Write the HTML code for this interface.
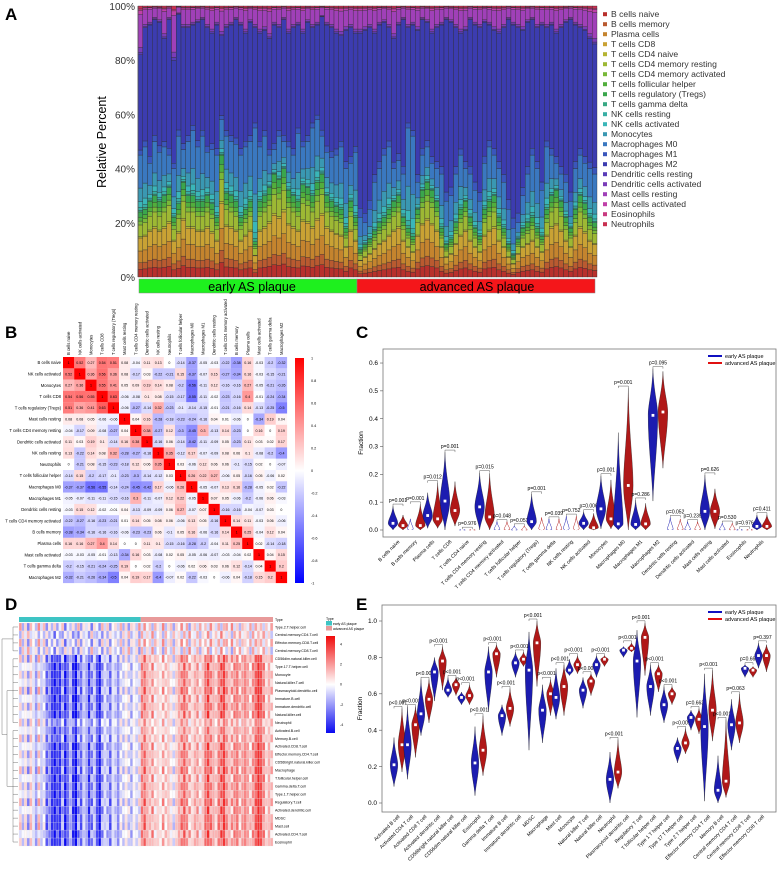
<!DOCTYPE html>
<html><head><meta charset="utf-8"><style>
html,body{margin:0;padding:0;background:#fff;}
svg{display:block;font-family:"Liberation Sans",sans-serif;}
</style></head><body>
<svg id="fig" width="777" height="871" viewBox="0 0 777 871" xmlns="http://www.w3.org/2000/svg">
<text x="5" y="20" font-size="17" font-weight="bold">A</text>
<text x="5" y="338" font-size="17" font-weight="bold">B</text>
<text x="356" y="338" font-size="17" font-weight="bold">C</text>
<text x="5" y="610" font-size="17" font-weight="bold">D</text>
<text x="356" y="610" font-size="17" font-weight="bold">E</text>
</svg>
<script>
// ---------- Panel A data ----------
const cellTypes=["B cells naive","B cells memory","Plasma cells","T cells CD8","T cells CD4 naive","T cells CD4 memory resting","T cells CD4 memory activated","T cells follicular helper","T cells regulatory (Tregs)","T cells gamma delta","NK cells resting","NK cells activated","Monocytes","Macrophages M0","Macrophages M1","Macrophages M2","Dendritic cells resting","Dendritic cells activated","Mast cells resting","Mast cells activated","Eosinophils","Neutrophils"];
const cellColors=["#b8302c","#b95a30","#c4842e","#c9a234","#b5b432","#9db834","#78b838","#52ae3c","#3aa64c","#38a884","#38aea4","#3ab6b8","#3a98b2","#3a78c0","#3a56bc","#3c3cb0","#5a3cb8","#7a3cb8","#a040b8","#c040a8","#c83a80","#c83050"];
const tTopEarly=[24,25,28,30,28,30,33,22,27,35,30,30,28,28,30,27,22,45,31,30,28,22,25,28,13,28,30,33,38,36,40,32,30,28,34,33,30,35,38,30,28,26,25,18,28,22];
const m0TopEarly=[45,48,42,50,46,48,45,40,52,47,50,54,48,52,46,47,45,58,52,50,49,45,48,50,55,48,52,45,47,52,50,48,45,53,48,50,55,58,52,46,44,45,48,40,42,46];
const m2TopEarly=[82,92,93,95,94,88,95,80,97,92,92,93,94,95,92,90,93,89,92,93,95,93,90,94,92,90,91,88,93,92,95,90,92,93,90,94,92,93,96,93,92,90,89,91,92,90];
const tTopAdv=[10,12,14,17,20,22,25,28,30,22,18,15,25,32,35,32,28,18,12,14,20,25,28,22,18,15,25,28,30,22,18,12,8,14,18,20,22,18,15,25,30,32,28,22,18,25,30,27,22,20];
const m0TopAdv=[22,20,25,35,40,45,48,40,43,38,55,52,35,45,48,42,40,38,28,30,38,45,40,38,32,28,42,48,45,40,35,25,18,20,30,38,45,40,32,48,45,42,38,35,28,40,45,42,40,38];
const m2TopAdv=[90,91,92,90,93,94,92,88,93,95,92,93,91,95,94,90,92,93,95,94,92,90,91,95,93,92,94,93,91,90,92,95,93,92,91,94,95,92,93,92,93,90,92,94,95,93,92,91,88,86];
const propLymph=[0.12,0.1,0.18,0.2,0.02,0.18,0.06,0.06,0.08];
const propMid=[0.03,0.05,0.1,0.24,0.58];
const propMac=[0.05,0.95];
const propTop=[0.05,0.1,0.68,0.08,0.03,0.06];
const aTicks=[0,20,40,60,80,100];

// ---------- Panel B data ----------
const corrLabels=["B cells naive","NK cells activated","Monocytes","T cells CD8","T cells regulatory (Tregs)","Mast cells resting","T cells CD4 memory resting","Dendritic cells activated","NK cells resting","Neutrophils","T cells follicular helper","Macrophages M0","Macrophages M1","Dendritic cells resting","T cells CD4 memory activated","B cells memory","Plasma cells","Mast cells activated","T cells gamma delta","Macrophages M2"];
const corrRows=[
[1,.52,.27,.54,.51,.08,-.04,.11,.13,0,-.14,-.37,-.05,-.03,-.22,-.38,.16,-.03,-.2,-.32],
[.52,1,.36,.56,.36,.08,-.17,.03,-.22,-.21,.15,-.37,-.07,.15,-.27,-.34,.16,-.03,-.15,-.21],
[.27,.36,1,.55,.41,.05,.09,.19,.14,.08,-.2,-.56,-.11,.12,-.16,-.16,.27,-.05,-.21,-.26],
[.54,.56,.55,1,.63,-.06,-.08,.1,.08,-.15,-.17,-.55,-.11,-.02,-.23,-.16,.4,-.01,-.24,-.34],
[.51,.36,.41,.63,1,-.06,-.27,-.14,.32,-.23,-.1,-.14,-.15,-.01,-.21,-.16,.14,-.13,-.25,-.5],
[.08,.08,.05,-.06,-.06,1,.04,.16,-.28,-.18,-.23,-.24,-.16,.04,.01,-.06,0,-.34,.19,.04],
[-.04,-.17,.09,-.08,-.27,.04,1,.38,-.27,.12,-.3,-.45,.3,-.13,.14,-.23,0,.16,0,.19],
[.11,.03,.19,.1,-.14,.16,.38,1,-.16,.06,-.14,-.42,-.11,-.09,.05,-.23,.11,.03,.02,.17],
[.13,-.22,.14,.08,.32,-.28,-.27,-.16,1,.35,-.12,.17,-.07,-.09,.08,.06,.1,-.08,-.2,-.4],
[0,-.21,.08,-.15,-.23,-.18,.12,.06,.35,1,.03,-.06,.12,.06,.06,-.1,-.15,.02,0,-.07],
[-.14,.15,-.2,-.17,-.1,-.23,-.3,-.14,-.12,.03,1,.26,.22,.27,-.06,.05,-.16,.05,-.06,.02],
[-.37,-.37,-.56,-.55,-.14,-.24,-.45,-.42,.17,-.06,.26,1,-.05,-.07,.13,.16,-.28,-.05,.02,-.22],
[-.05,-.07,-.11,-.11,-.15,-.16,.3,-.11,-.07,.12,.22,-.05,1,.07,.05,-.06,-.2,-.06,.06,-.03],
[-.03,.15,.12,-.02,-.01,.04,-.13,-.09,-.09,.06,.27,-.07,.07,1,-.16,-.16,-.04,-.07,.03,0],
[-.22,-.27,-.16,-.23,-.21,.01,.14,.05,.08,.06,-.06,.13,.05,-.16,1,.14,.11,-.03,.06,-.06],
[-.38,-.34,-.16,-.16,-.16,-.06,-.23,-.23,.06,-.1,.05,.16,-.06,-.16,.14,1,.25,-.04,.12,.04],
[.16,.16,.27,.4,.14,0,0,.11,.1,-.15,-.16,-.28,-.2,-.04,.11,.25,1,.02,-.14,-.18],
[-.03,-.03,-.05,-.01,-.13,-.34,.16,.03,-.08,.02,.05,-.05,-.06,-.07,-.03,-.04,.02,1,.04,.15],
[-.2,-.15,-.21,-.24,-.25,.19,0,.02,-.2,0,-.06,.02,.06,.03,.06,.12,-.14,.04,1,.2],
[-.32,-.21,-.26,-.34,-.5,.04,.19,.17,-.4,-.07,.02,-.22,-.03,0,-.06,.04,-.18,.15,.2,1]];
const corrTicks=[1,0.8,0.6,0.4,0.2,0,-0.2,-0.4,-0.6,-0.8,-1];

// ---------- Panel C data ----------
const cCats=["B cells naive","B cells memory","Plasma cells","T cells CD8","T cells CD4 naive","T cells CD4 memory resting","T cells CD4 memory activated","T cells follicular helper","T cells regulatory (Tregs)","T cells gamma delta","NK cells resting","NK cells activated","Monocytes","Macrophages M0","Macrophages M1","Macrophages M2","Dendritic cells resting","Dendritic cells activated","Mast cells resting","Mast cells activated","Eosinophils","Neutrophils"];
const cEarlyMed=[0.024,0.003,0.052,0.104,0,0.083,0.002,0,0.03,0.002,0.004,0.024,0.076,0.022,0.02,0.412,0.002,0.002,0.067,0.001,0,0.013];
const cEarlyMax=[0.086,0.04,0.134,0.28,0.003,0.206,0.03,0.015,0.13,0.04,0.05,0.066,0.195,0.35,0.108,0.58,0.045,0.03,0.198,0.025,0.005,0.054];
const cEarlyMin=[0,0,0.006,0,0,0,0,0,0,0,0,0,0.004,0,0,0.104,0,0,0,0,0,0];
const cAdvMed=[0.016,0.016,0.04,0.07,0,0.047,0.002,0,0.004,0.002,0.004,0.008,0.04,0.16,0.022,0.424,0.002,0.002,0.067,0.001,0,0.013];
const cAdvMax=[0.054,0.094,0.17,0.174,0.003,0.204,0.03,0.015,0.045,0.04,0.05,0.06,0.18,0.51,0.096,0.57,0.04,0.03,0.148,0.025,0.005,0.055];
const cAdvMin=[0,0,0.006,0.014,0,0,0,0,0,0,0,0,0.004,0,0,0.222,0,0,0.004,0,0,0];
const cPvals=["p=0.001","p=0.001","p=0.012","p=0.001","p=0.976","p=0.015","p=0.048","p=0.051","p=0.001","p=0.039","p=0.752","p=0.006","p=0.001","p=0.001","p=0.286","p=0.095","p=0.052","p=0.239","p=0.626","p=0.530","p=0.976","p=0.411"];
const cTicks=[0,0.1,0.2,0.3,0.4,0.5,0.6];

// ---------- Panel D data ----------
const hmRows=["Type.2.T.helper.cell","Central.memory.CD4.T.cell","Effector.memory.CD8.T.cell","Central.memory.CD8.T.cell","CD56dim.natural.killer.cell","Type.17.T.helper.cell","Monocyte","Natural.killer.T.cell","Plasmacytoid.dendritic.cell","Immature.B.cell","Immature.dendritic.cell","Natural.killer.cell","Neutrophil","Activated.B.cell","Memory.B.cell","Activated.CD8.T.cell","Effector.memory.CD4.T.cell","CD56bright.natural.killer.cell","Macrophage","T.follicular.helper.cell","Gamma.delta.T.cell","Type.1.T.helper.cell","Regulatory.T.cell","Activated.dendritic.cell","MDSC","Mast.cell","Activated.CD4.T.cell","Eosinophil"];
const hmColScore=[0.2,-0.5,0.3,-0.8,0.5,-0.3,-1,0.4,-0.6,-0.2,-1.5,-1.2,-2,-2.5,-1.8,-2.2,-1,-2.5,-1.5,-0.8,-2,-2.8,-1.2,-1.5,-0.5,-1,-2,-1.2,-0.6,-1.8,-2.6,-1,-0.4,-0.8,-1.5,-0.3,-0.6,-1.2,-0.2,-0.5,0.2,-0.3,-0.8,0.1,-0.4,0,
1.2,1.5,0.8,0.6,1,0.3,0.5,0.2,0.8,0.4,0.6,0.2,-0.3,0.5,0.9,1.2,1.6,1.0,0.7,0.4,0.8,1,0.3,0.6,1.5,1.8,1.2,0.9,0.5,1.3,1.6,2,1.1,0.7,0.8,1.2,1.4,0.6,1,1.3,0.9,0.5,1.1,1.6,2.2,1.8,1.2,0.4,0.8,0.6];
const hmColJitter=[0.8,-0.6,0.3,-0.9,0.5,0.1,-0.4,0.9,-0.2,0.6,-0.7,0.4,-0.3,0.8,-0.5,0.2,0.7,-0.8,0.1,-0.4,0.6,-0.2,0.9,-0.6,0.3,-0.1,0.5,-0.9,0.4,0.2,-0.5,0.8,-0.3,0.6,-0.7,0.1,0.4,-0.2,0.7,-0.6,0.3,-0.8,0.5,0.2,-0.4,0.9,
-0.5,0.7,-0.2,0.4,-0.8,0.6,0.1,-0.3,0.9,-0.6,0.2,0.5,-0.7,0.3,-0.1,0.8,-0.4,0.6,-0.9,0.2,0.4,-0.5,0.7,-0.2,0.3,-0.6,0.8,0.1,-0.4,0.5,-0.8,0.3,0.6,-0.2,0.9,-0.5,0.2,-0.7,0.4,0.1,-0.3,0.7,-0.6,0.5,-0.1,0.3,-0.6,0.4,-0.2,0.7];
const hmRowWeight=[0.2,0.3,0.3,0.2,0.9,1,1,1,1,1,1,1,0.6,0.8,0.8,1,1,1,1,1,1,1,1,1,1,1,1,1];
const hmRowSign=[1.8,-1.6,1.6,-1.8,1,-1,0.5,-0.5,1,-1,0.5,-1,1,-0.5,1,-1,0.5,-0.5,1,-1,0.5,-0.5,1,-1,0.5,1,-1,0.5];
const hmTicks=[4,2,0,-2,-4];

// ---------- Panel E data ----------
const eCats=["Activated B cell","Activated CD4 T cell","Activated CD8 T cell","Activated dendritic cell","CD56bright natural killer cell","CD56dim natural killer cell","Eosinophil","Gamma delta T cell","Immature B cell","Immature dendritic cell","MDSC","Macrophage","Mast cell","Monocyte","Natural killer T cell","Natural killer cell","Neutrophil","Plasmacytoid dendritic cell","Regulatory T cell","T follicular helper cell","Type 1 T helper cell","Type 17 T helper cell","Type 2 T helper cell","Effector memory CD4 T cell","Memory B cell","Central memory CD4 T cell","Central memory CD8 T cell","Effector memory CD8 T cell"];
const eEarlyMed=[0.21,0.32,0.49,0.72,0.62,0.58,0.22,0.72,0.48,0.77,0.73,0.51,0.58,0.73,0.62,0.76,0.13,0.84,0.78,0.64,0.54,0.30,0.47,0.42,0.07,0.43,0.74,0.81];
const eEarlyMin=[0.09,0.13,0.37,0.56,0.58,0.54,0.04,0.50,0.37,0.69,0.29,0.33,0.46,0.70,0.52,0.69,0.0,0.80,0.47,0.48,0.44,0.22,0.40,0.01,0.0,0.29,0.69,0.74];
const eEarlyMax=[0.36,0.53,0.68,0.80,0.69,0.61,0.42,0.86,0.54,0.83,0.94,0.65,0.74,0.79,0.69,0.81,0.28,0.86,0.95,0.76,0.64,0.36,0.51,0.71,0.26,0.57,0.76,0.88];
const eAdvMed=[0.32,0.43,0.57,0.78,0.65,0.59,0.29,0.82,0.52,0.79,0.88,0.60,0.64,0.76,0.67,0.79,0.17,0.85,0.91,0.71,0.60,0.33,0.46,0.51,0.12,0.44,0.73,0.81];
const eAdvMin=[0.17,0.25,0.44,0.62,0.59,0.54,0.15,0.69,0.42,0.75,0.64,0.48,0.48,0.71,0.59,0.75,0.08,0.83,0.70,0.61,0.54,0.27,0.38,0.34,0.03,0.33,0.69,0.72];
const eAdvMax=[0.52,0.53,0.68,0.86,0.69,0.65,0.48,0.87,0.63,0.83,1.0,0.68,0.76,0.81,0.71,0.81,0.35,0.88,0.99,0.76,0.64,0.41,0.52,0.73,0.46,0.60,0.75,0.87];
const ePvals=["p<0.001","p<0.001","p<0.001","p<0.001","p<0.001","p<0.001","p<0.001","p<0.001","p<0.001","p<0.001","p<0.001","p<0.001","p<0.001","p<0.001","p<0.001","p<0.001","p<0.001","p<0.001","p<0.001","p<0.001","p<0.001","p<0.001","p=0.663","p<0.001","p<0.001","p=0.063","p=0.667","p=0.397"];
const eTicks=[0,0.2,0.4,0.6,0.8,1.0];

// ---------- helpers ----------
const NS="http://www.w3.org/2000/svg";
const svg=document.getElementById('fig');
function mk(tag,attrs,parent){const e=document.createElementNS(NS,tag);for(const k in attrs)e.setAttribute(k,attrs[k]);(parent||svg).appendChild(e);return e;}
function tx(x,y,s,size,anchor,parent){const t=mk('text',{x:x,y:y,'font-size':size,'text-anchor':anchor||'start'},parent);t.textContent=s;return t;}
function lerp(a,b,t){return Math.round(a+(b-a)*t);}
function divColor(v,maxAbs,pos,neg){if(!isFinite(v))v=0;let t=Math.max(-1,Math.min(1,v/maxAbs));const c=t>=0?pos:neg;t=Math.abs(t);return `rgb(${lerp(255,c[0],t)},${lerp(255,c[1],t)},${lerp(255,c[2],t)})`;}

// ---------- Panel A ----------
const gA=mk('g',{});


const aX0=138,aX1=597,aY0=6,aY1=277;
const tTop=tTopEarly.concat(tTopAdv),m0Top=m0TopEarly.concat(m0TopAdv),m2Top=m2TopEarly.concat(m2TopAdv);
const nS=tTop.length,bw=(aX1-aX0)/nS;
function yA(v){return aY1-v/100*(aY1-aY0);}
for(let i=0;i<nS;i++){
  const segs=[];
  propLymph.forEach(p=>segs.push(p*tTop[i]));
  propMid.forEach(p=>segs.push(p*(m0Top[i]-tTop[i])));
  propMac.forEach(p=>segs.push(p*(m2Top[i]-m0Top[i])));
  propTop.forEach(p=>segs.push(p*(100-m2Top[i])));
  let cum=0;
  segs.forEach((s,k)=>{
    const r=mk('rect',{x:(aX0+i*bw).toFixed(2),y:yA(cum+s).toFixed(2),width:bw.toFixed(2),height:(yA(cum)-yA(cum+s)).toFixed(2),fill:cellColors[k],stroke:'#2a2a2a','stroke-width':0.35},gA);
    
    
    cum+=s;
  });
}
const aAxis=mk('line',{x1:aX0,y1:aY0,x2:aX0,y2:aY1,stroke:'#555','stroke-width':0.8});


aTicks.forEach(v=>{
  const t=tx(aX0-3,yA(v)+4,v+'%',10,'end');
  
  
  t.setAttribute('fill','#333');
});
const aTitle=tx(0,0,'Relative Percent',12.5,'middle');
aTitle.setAttribute('transform','translate(106,142) rotate(-90)');


const gb1=mk('rect',{x:139,y:279,width:218,height:14,fill:'#1ef01e',stroke:'#888','stroke-width':0.5});


const gb2=mk('rect',{x:357,y:279,width:238,height:14,fill:'#f4161a',stroke:'#888','stroke-width':0.5});


const gl1=tx(252,291,'early AS plaque',12.5,'middle');


const gl2=tx(477,291,'advanced AS plaque',12.5,'middle');


cellTypes.forEach((n,k)=>{
  const y=14.7+k*10;
  const sq=mk('rect',{x:603,y:y-2.5,width:4,height:4,fill:cellColors[k]});
  
  
  const t=tx(611,y+2.5,n,8.6,'start');
  
  
  t.setAttribute('fill','#333');
});

// ---------- Panel B ----------
const bX0=63,bY0=357,cw=11.2,ch=11.3;
corrRows.forEach((row,r)=>{
  row.forEach((v,c)=>{
    const cell=mk('rect',{x:bX0+c*cw,y:bY0+r*ch,width:cw+0.1,height:ch+0.1,fill:divColor(v,1,[255,0,0],[0,0,255])});
    
    
    const t=tx(bX0+c*cw+cw/2,bY0+r*ch+ch/2+1.3,String(v),3.6,'middle');
    
    
  });
  const rl=tx(bX0-2,bY0+r*ch+ch/2+1.5,corrLabels[r],4.2,'end');
  
  
  const cl=tx(0,0,corrLabels[r],4.2,'start');
  cl.setAttribute('transform',`translate(${bX0+r*cw+cw/2+1.5},${bY0-2}) rotate(-90)`);
  
  
});
const defs=mk('defs',{});
const lg=mk('linearGradient',{id:'gradB',x1:0,y1:0,x2:0,y2:1},defs);
mk('stop',{offset:'0','stop-color':'#ff0000'},lg);mk('stop',{offset:'0.5','stop-color':'#ffffff'},lg);mk('stop',{offset:'1','stop-color':'#0000ff'},lg);
const cb=mk('rect',{x:295,y:358,width:9,height:225,fill:'url(#gradB)'});


corrTicks.forEach(v=>{
  const y=358+(1-v)/2*225;
  const t=tx(311,y+1.3,String(v),3.8,'start');
  
  
});

// ---------- violin helper ----------
function violin(cx,yMin,yMed,yMax,w,col,outline){
  const d=`M${cx},${yMax} C${cx+w*0.15},${yMax+(yMed-yMax)*0.5} ${cx+w},${yMed-(yMed-yMax)*0.25} ${cx+w},${yMed} C${cx+w},${yMed+(yMin-yMed)*0.35} ${cx+w*0.15},${yMin-(yMin-yMed)*0.3} ${cx},${yMin} C${cx-w*0.15},${yMin-(yMin-yMed)*0.3} ${cx-w},${yMed+(yMin-yMed)*0.35} ${cx-w},${yMed} C${cx-w},${yMed-(yMed-yMax)*0.25} ${cx-w*0.15},${yMax+(yMed-yMax)*0.5} ${cx},${yMax} Z`;
  const p=mk('path',{d:d,fill:outline?'#fff':col,stroke:outline?col:'#111','stroke-width':outline?0.5:0.3});
  
  
  const m=mk('rect',{x:cx-1.4,y:yMed-1.4,width:2.8,height:2.8,fill:'#fff'});
  
  
}
function legendBox(x,y){
  const l1=mk('line',{x1:x,y1:y,x2:x+14,y2:y,stroke:'#1010c0','stroke-width':2});
  
  
  const t1=tx(x+17,y+2,'early AS plaque',5.5,'start');
  
  
  const l2=mk('line',{x1:x,y1:y+7,x2:x+14,y2:y+7,stroke:'#e01010','stroke-width':2});
  
  
  const t2=tx(x+17,y+9,'advanced AS plaque',5.5,'start');
  
  
}
function violinPanel(o){
  const box=mk('rect',{x:o.x0,y:o.y0,width:o.x1-o.x0,height:o.y1-o.y0,fill:'none',stroke:'#777','stroke-width':0.8});
  
  
  o.ticks.forEach(v=>{
    const y=o.y(v);
    const tk=mk('line',{x1:o.x0-3,y1:y,x2:o.x0,y2:y,stroke:'#555','stroke-width':0.6});
    
    
    const t=tx(o.x0-5,y+2.2,v.toFixed(1),6.5,'end');
    
    
  });
  const ft=tx(0,0,'Fraction',6.5,'middle');
  ft.setAttribute('transform',`translate(${o.x0-20},${(o.y0+o.y1)/2}) rotate(-90)`);
  
  
  o.cats.forEach((c,i)=>{
    const cx=o.c0+i*o.step;
    const small=o.eMax[i]<0.06&&o.eMed[i]<0.01;
    violin(cx-o.off,o.y(o.eMin[i]),o.y(o.eMed[i]),o.y(o.eMax[i]),small?o.w*0.6:o.w,'#1c1cb0',small);
    const small2=o.aMax[i]<0.06&&o.aMed[i]<0.01;
    violin(cx+o.off,o.y(o.aMin[i]),o.y(o.aMed[i]),o.y(o.aMax[i]),small2?o.w*0.6:o.w,'#b01818',small2);
    const by=o.y(Math.max(o.eMax[i],o.aMax[i]))-2;
    const br=mk('path',{d:`M${cx-o.off},${by+2} L${cx-o.off},${by} L${cx+o.off},${by} L${cx+o.off},${by+2}`,fill:'none',stroke:'#333','stroke-width':0.4});
    
    
    const pt=tx(cx,by-2,o.p[i],5,'middle');
    
    
    const lb=tx(0,0,c,5,'end');
    lb.setAttribute('transform',`translate(${cx+2},${o.y1+5}) rotate(-45)`);
    
    
  });
  legendBox(o.x1-68,o.y0+7);
}
// ---------- Panel C ----------
violinPanel({name:'fraction-c',x0:383,x1:776,y0:349,y1:537,y:v=>530-v*278.3,ticks:cTicks,cats:cCats,c0:398,step:17.33,off:5,w:4.8,
  eMed:cEarlyMed,eMin:cEarlyMin,eMax:cEarlyMax,aMed:cAdvMed,aMin:cAdvMin,aMax:cAdvMax,p:cPvals});

// ---------- Panel E ----------
violinPanel({name:'fraction-e',x0:382,x1:776,y0:605,y1:812,y:v=>803-v*182,ticks:eTicks,cats:eCats,c0:398,step:13.5,off:4,w:3.8,
  eMed:eEarlyMed,eMin:eEarlyMin,eMax:eEarlyMax,aMed:eAdvMed,aMin:eAdvMin,aMax:eAdvMax,p:ePvals});

// ---------- Panel D ----------
const hX0=19,hX1=273,hY0=623,hY1=846;
const nC=hmColScore.length,hw=(hX1-hX0)/nC,hh=(hY1-hY0)/hmRows.length;
const nEarly=46;
const tb1=mk('rect',{x:hX0,y:617,width:nEarly*hw,height:5,fill:'#3ec4c4'});


const tb2=mk('rect',{x:hX0+nEarly*hw,y:617,width:(nC-nEarly)*hw,height:5,fill:'#e89a9a'});


const tyl=tx(275,621,'Type',3.6,'start');


hmRows.forEach((rn,r)=>{
  for(let c=0;c<nC;c++){
    const v=hmColScore[c]*hmRowWeight[r]*1.4+(hmColJitter[c]||0)*hmRowSign[r];
    const cell=mk('rect',{x:(hX0+c*hw).toFixed(2),y:(hY0+r*hh).toFixed(2),width:hw.toFixed(2),height:hh.toFixed(2),fill:divColor(v,3.6,[240,10,10],[10,10,240]),stroke:'#e4e4e4','stroke-width':0.2});
    
    
  }
  const t=tx(275,hY0+r*hh+hh/2+1.3,rn,3.6,'start');
  
  
});
// dendrogram
const dParts=[];
for(let r=0;r<hmRows.length;r++){const y=hY0+r*hh+hh/2;dParts.push(`M${hX0-1},${y} L13,${y}`);}
dParts.push(`M13,${hY0+hh*0.5} L13,${hY0+hh*3.5} M10,${hY0+hh*2} L13,${hY0+hh*2}`);
dParts.push(`M13,${hY0+hh*4.5} L13,${hY0+hh*12.5} M8,${hY0+hh*8.5} L13,${hY0+hh*8.5}`);
dParts.push(`M13,${hY0+hh*13.5} L13,${hY0+hh*27.5} M7,${hY0+hh*20.5} L13,${hY0+hh*20.5}`);
dParts.push(`M7,${hY0+hh*8.5} L7,${hY0+hh*20.5} M4,${hY0+hh*14} L7,${hY0+hh*14}`);
dParts.push(`M10,${hY0+hh*2} L2,${hY0+hh*2} M2,${hY0+hh*2} L2,${hY0+hh*14} L4,${hY0+hh*14}`);
dParts.push(`M8,${hY0+hh*8.5} L7,${hY0+hh*8.5}`);
const dend=mk('path',{d:dParts.join(' '),fill:'none',stroke:'#555','stroke-width':0.4});


const ltT=tx(326,620,'Type',3.6,'start');


const ls1=mk('rect',{x:326,y:621,width:6,height:4.5,fill:'#3ec4c4'});


const lt1=tx(333,625,'early AS plaque',3.4,'start');


const ls2=mk('rect',{x:326,y:626,width:6,height:4.5,fill:'#e89a9a'});


const lt2=tx(333,630,'advanced AS plaque',3.4,'start');


const lg2=mk('linearGradient',{id:'gradD',x1:0,y1:0,x2:0,y2:1},defs);
mk('stop',{offset:'0','stop-color':'#f00a0a'},lg2);mk('stop',{offset:'0.5','stop-color':'#ffffff'},lg2);mk('stop',{offset:'1','stop-color':'#0a0af0'},lg2);
const cb2=mk('rect',{x:326,y:636,width:9,height:97,fill:'url(#gradD)'});


hmTicks.forEach(v=>{
  const y=636+(4.8-v)/9.6*97;
  const t=tx(340,y+1.2,String(v),3.6,'start');
  
  
});
</script>
</body></html>
